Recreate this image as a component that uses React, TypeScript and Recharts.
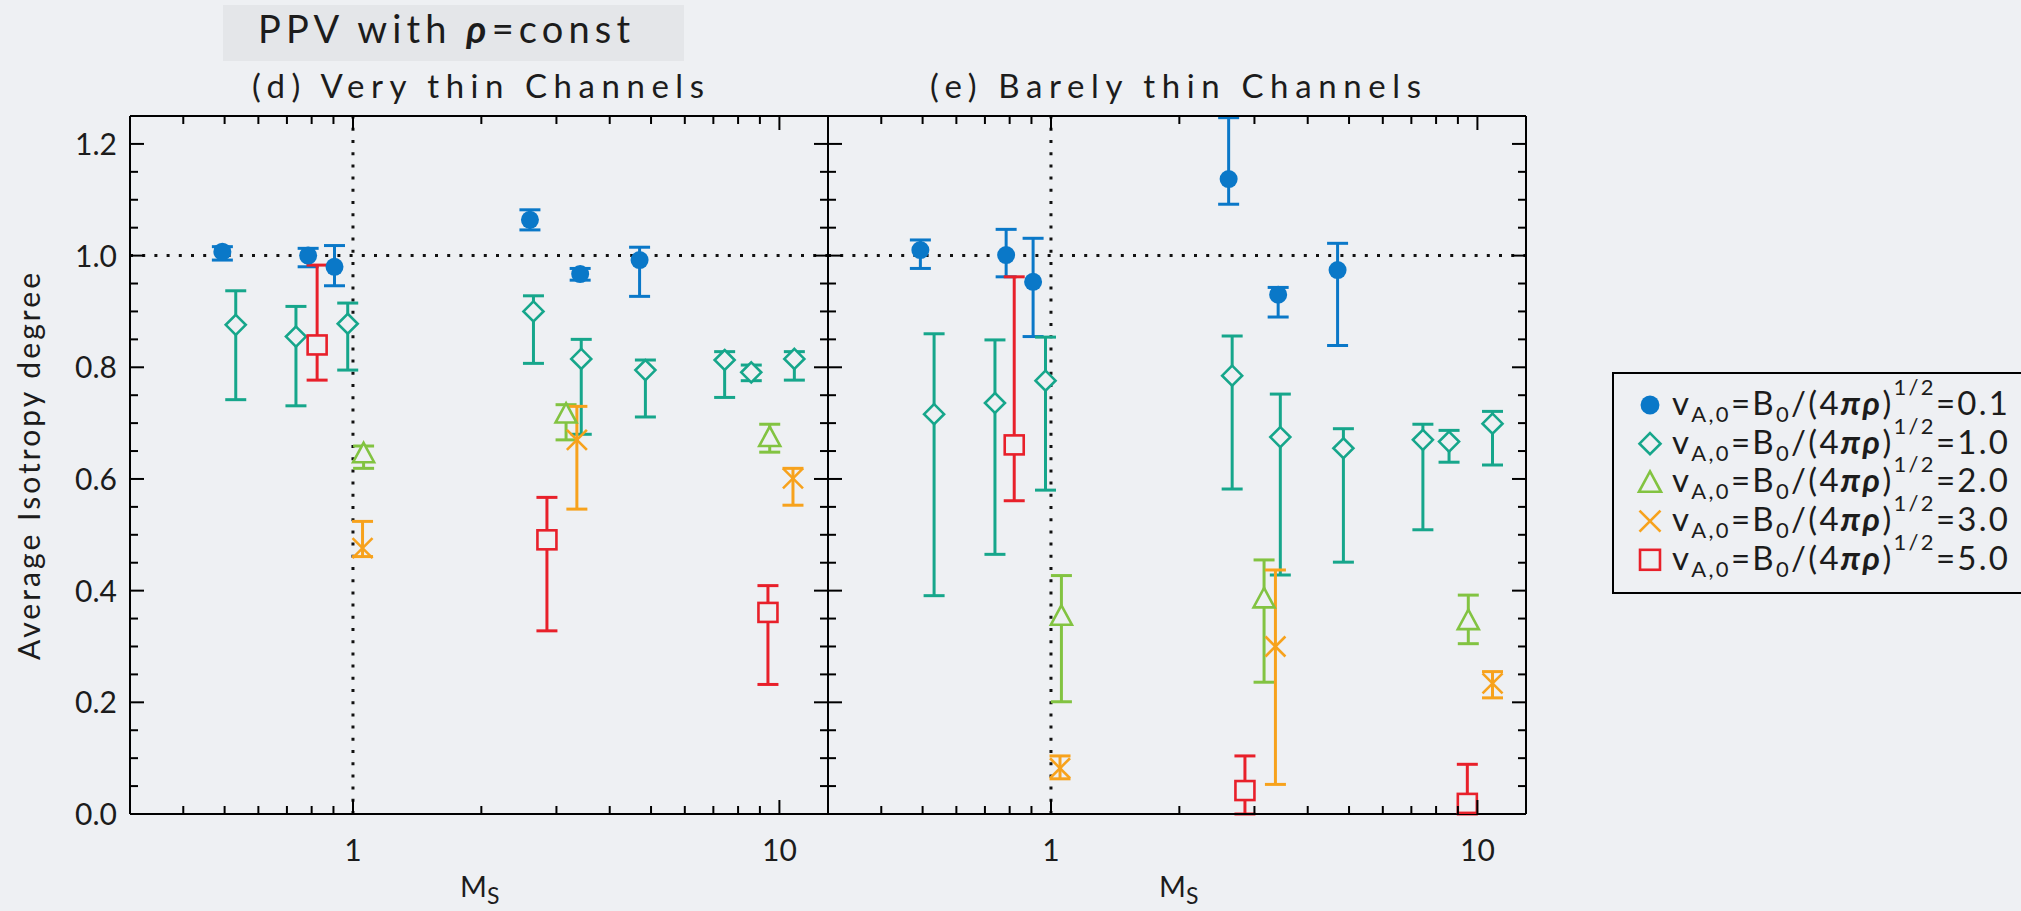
import React from 'react';
import { ScatterChart, Scatter, XAxis, YAxis, ErrorBar, ReferenceLine } from 'recharts';

// ---------- data ----------
// each point: [Ms, value, errLow, errHigh]
const thinV01 = [[0.494, 1.007, 0.992, 1.016], [0.785, 1.0, 0.98, 1.013], [0.905, 0.98, 0.946, 1.018], [2.6, 1.064, 1.046, 1.082], [3.41, 0.967, 0.956, 0.977], [4.7, 0.992, 0.927, 1.015]];
const thinV10 = [[0.531, 0.876, 0.742, 0.937], [0.735, 0.855, 0.731, 0.909], [0.972, 0.878, 0.795, 0.915], [2.65, 0.9, 0.807, 0.928], [3.43, 0.815, 0.68, 0.85], [4.85, 0.795, 0.711, 0.813], [7.44, 0.813, 0.746, 0.828], [8.59, 0.791, 0.776, 0.804], [10.84, 0.815, 0.777, 0.828]];
const thinV20 = [[1.059, 0.646, 0.619, 0.659], [3.16, 0.717, 0.67, 0.733], [9.49, 0.675, 0.648, 0.698]];
const thinV30 = [[1.053, 0.476, 0.461, 0.524], [3.35, 0.67, 0.546, 0.73], [10.76, 0.601, 0.553, 0.619]];
const thinV50 = [[0.824, 0.84, 0.777, 0.983], [2.85, 0.491, 0.328, 0.567], [9.4, 0.361, 0.232, 0.409]];

const barelyV01 = [[0.494, 1.01, 0.977, 1.028], [0.785, 1.001, 0.962, 1.047], [0.908, 0.953, 0.855, 1.031], [2.61, 1.137, 1.092, 1.247], [3.41, 0.93, 0.89, 0.943], [4.7, 0.974, 0.839, 1.022]];
const barelyV10 = [[0.532, 0.716, 0.391, 0.86], [0.739, 0.736, 0.465, 0.849], [0.971, 0.776, 0.58, 0.854], [2.66, 0.785, 0.582, 0.856], [3.45, 0.675, 0.428, 0.752], [4.85, 0.655, 0.451, 0.69], [7.45, 0.67, 0.509, 0.698], [8.58, 0.667, 0.63, 0.687], [10.85, 0.699, 0.625, 0.721]];
const barelyV20 = [[1.058, 0.355, 0.201, 0.427], [3.16, 0.386, 0.236, 0.455], [9.52, 0.347, 0.305, 0.392]];
const barelyV30 = [[1.05, 0.082, 0.063, 0.104], [3.36, 0.3, 0.053, 0.437], [10.85, 0.234, 0.208, 0.255]];
const barelyV50 = [[0.82, 0.661, 0.561, 0.962], [2.85, 0.042, 0.0, 0.104], [9.47, 0.019, 0.0, 0.089]];

const SERIES_VALUES = ['0.1', '1.0', '2.0', '3.0', '5.0'];
const SERIES_COLORS = ['#0a78c8', '#16a68b', '#82c341', '#f7a21c', '#e8202a'];
const SERIES_SHAPES = ['circle', 'diamond', 'triangle', 'cross', 'square'];

const X_DOMAIN = [0.3, 13];
const Y_DOMAIN = [0, 1.25];
const X_TICKS = [0.4, 0.5, 0.6, 0.7, 0.8, 0.9, 1, 2, 3, 4, 5, 6, 7, 8, 9, 10];
const X_LABELS = [1, 10];
const Y_TICKS = [0, 0.05, 0.1, 0.15, 0.2, 0.25, 0.3, 0.35, 0.4, 0.45, 0.5, 0.55, 0.6, 0.65, 0.7, 0.75, 0.8, 0.85, 0.9, 0.95, 1.0, 1.05, 1.1, 1.15, 1.2];
const Y_LABELS = [0, 0.2, 0.4, 0.6, 0.8, 1.0, 1.2];

const PANEL_TITLES = ['(d) Very thin Channels', '(e) Barely thin Channels'];
const MAIN_TITLE = 'PPV with ';

// ---------- style ----------
const BG = '#eef0f3';
const FONT = 'Lato, "Noto Sans", sans-serif';
const TXT = '#1c1c1c';
const PLOT_TOP = 116;
const PLOT_BOTTOM = 814;
const PLOT_W = 698;

const isLabelY = (v: number) => Y_LABELS.some((l) => Math.abs(l - v) < 1e-9);

function renderShape(kind: string, cx: number, cy: number, color: string, s = 1) {
  const sw = 2.6;
  if (kind === 'circle') return <circle cx={cx} cy={cy} r={9 * s} fill={color} />;
  if (kind === 'diamond') {
    const d = 10 * s;
    return <polygon points={`${cx},${cy - d} ${cx + d},${cy} ${cx},${cy + d} ${cx - d},${cy}`} fill={BG} stroke={color} strokeWidth={sw} />;
  }
  if (kind === 'triangle') {
    const h = 10.5 * s;
    return <polygon points={`${cx},${cy - h} ${cx + h},${cy + 0.85 * h} ${cx - h},${cy + 0.85 * h}`} fill={BG} stroke={color} strokeWidth={sw} />;
  }
  if (kind === 'cross') {
    const d = 10 * s;
    return (
      <g stroke={color} strokeWidth={sw}>
        <line x1={cx - d} y1={cy - d} x2={cx + d} y2={cy + d} />
        <line x1={cx - d} y1={cy + d} x2={cx + d} y2={cy - d} />
      </g>
    );
  }
  const h = 9.5 * s;
  return <rect x={cx - h} y={cy - h} width={2 * h} height={2 * h} fill={BG} stroke={color} strokeWidth={sw} />;
}

const toRows = (pts: number[][]) => pts.map(([x, y, lo, hi]) => ({ x, y, err: [y - lo, hi - y] }));

function Panel({ left, width, plotLeft, groups, showYLabels }: any) {
  const margin = {
    top: PLOT_TOP - 1,
    bottom: 911 - PLOT_BOTTOM - 1,
    left: plotLeft - left - 1,
    right: left + width - plotLeft - PLOT_W - 1,
  };
  const axisLine = { stroke: '#000', strokeWidth: 2 };
  const bottomTick = (p: any) => {
    const v = p.payload.value;
    const major = X_LABELS.includes(v);
    return (
      <g>
        <line x1={p.x} x2={p.x} y1={p.y} y2={p.y - (major ? 14 : 8)} stroke="#000" strokeWidth={2} />
        {major && (
          <text x={p.x} y={861} textAnchor="middle" fontSize={30} fontFamily={FONT} fill={TXT}>
            {String(v)}
          </text>
        )}
      </g>
    );
  };
  const topTick = (p: any) => {
    const major = X_LABELS.includes(p.payload.value);
    return <line x1={p.x} x2={p.x} y1={p.y} y2={p.y + (major ? 14 : 8)} stroke="#000" strokeWidth={2} />;
  };
  const leftTick = (p: any) => {
    const v = p.payload.value;
    const major = isLabelY(v);
    return (
      <g>
        <line x1={p.x} x2={p.x + (major ? 14 : 8)} y1={p.y} y2={p.y} stroke="#000" strokeWidth={2} />
        {major && showYLabels && (
          <text x={p.x - 13} y={p.y + 11} textAnchor="end" fontSize={30} fontFamily={FONT} fill={TXT}>
            {v.toFixed(1)}
          </text>
        )}
      </g>
    );
  };
  const rightTick = (p: any) => {
    const major = isLabelY(p.payload.value);
    return <line x1={p.x} x2={p.x - (major ? 14 : 8)} y1={p.y} y2={p.y} stroke="#000" strokeWidth={2} />;
  };
  return (
    <div style={{ position: 'absolute', left, top: 0 }}>
      <ScatterChart width={width} height={911} margin={margin}>
        <XAxis xAxisId="b" type="number" dataKey="x" scale="log" domain={X_DOMAIN} allowDataOverflow ticks={X_TICKS} interval={0}
          orientation="bottom" height={1} tickSize={0} tickMargin={0} tickLine={false} axisLine={axisLine} tick={bottomTick} />
        <XAxis xAxisId="t" type="number" dataKey="x" scale="log" domain={X_DOMAIN} allowDataOverflow ticks={X_TICKS} interval={0}
          orientation="top" height={1} tickSize={0} tickMargin={0} tickLine={false} axisLine={axisLine} tick={topTick} />
        <YAxis yAxisId="l" type="number" dataKey="y" domain={Y_DOMAIN} allowDataOverflow ticks={Y_TICKS} interval={0}
          orientation="left" width={1} tickSize={0} tickMargin={0} tickLine={false} axisLine={axisLine} tick={leftTick} />
        <YAxis yAxisId="r" type="number" dataKey="y" domain={Y_DOMAIN} allowDataOverflow ticks={Y_TICKS} interval={0}
          orientation="right" width={1} tickSize={0} tickMargin={0} tickLine={false} axisLine={axisLine} tick={rightTick} />
        <ReferenceLine xAxisId="b" yAxisId="l" y={1} stroke="#111" strokeWidth={3} strokeDasharray="3 9.2" />
        <ReferenceLine xAxisId="b" yAxisId="l" x={1} stroke="#111" strokeWidth={3} strokeDasharray="3 9.2" />
        {groups.map((pts: number[][], i: number) => (
          <Scatter key={i} data={toRows(pts)} xAxisId="b" yAxisId="l" fill={SERIES_COLORS[i]} isAnimationActive={false}
            shape={(sp: any) => renderShape(SERIES_SHAPES[i], sp.cx, sp.cy, SERIES_COLORS[i])}>
            <ErrorBar dataKey="err" direction="y" width={10.5} stroke={SERIES_COLORS[i]} strokeWidth={3} isAnimationActive={false} />
          </Scatter>
        ))}
      </ScatterChart>
    </div>
  );
}

function LegendBox() {
  const rowY = [405, 443.7, 482.4, 521.1, 559.8];
  return (
    <g>
      <rect x={1613} y={373} width={420} height={220} fill="none" stroke="#000" strokeWidth={2} />
      {SERIES_VALUES.map((val, i) => (
        <g key={i}>
          {renderShape(SERIES_SHAPES[i], 1650, rowY[i], SERIES_COLORS[i], 1.05)}
          <text x={1672} y={rowY[i] + 10} fontSize={33} fontFamily={FONT} fill={TXT} textLength={336} lengthAdjust="spacing">
            v<tspan fontSize={22} dy={7}>A,0</tspan>
            <tspan dy={-7}>=B</tspan>
            <tspan fontSize={22} dy={7}>0</tspan>
            <tspan dy={-7}>/(4</tspan>
            <tspan fontStyle="italic" fontWeight="bold">πρ</tspan>
            <tspan>)</tspan>
            <tspan fontSize={22} dy={-20}>1/2</tspan>
            <tspan dy={20}>={val}</tspan>
          </text>
        </g>
      ))}
    </g>
  );
}

export default function App() {
  return (
    <div style={{ position: 'relative', width: 2021, height: 911, background: BG, overflow: 'hidden' }}>
      <style>{'body{margin:0;overflow:hidden}'}</style>
      <svg width={2021} height={911} style={{ position: 'absolute', left: 0, top: 0 }}>
        <rect x={223} y={5} width={461} height={56} fill="#e4e6e9" />
        <text x={258} y={43} fontSize={38} fontFamily={FONT} fill={TXT} textLength={372} lengthAdjust="spacing">
          {MAIN_TITLE}
          <tspan fontStyle="italic" fontWeight="bold">ρ</tspan>=const
        </text>
        <text x={252} y={98} fontSize={33} fontFamily={FONT} fill={TXT} textLength={452} lengthAdjust="spacing">{PANEL_TITLES[0]}</text>
        <text x={930} y={98} fontSize={33} fontFamily={FONT} fill={TXT} textLength={491} lengthAdjust="spacing">{PANEL_TITLES[1]}</text>
        <text transform="translate(40,466.5) rotate(-90)" textAnchor="middle" fontSize={30} fontFamily={FONT} fill={TXT} textLength={387} lengthAdjust="spacing">
          Average Isotropy degree
        </text>
        {[460, 1159].map((x, i) => (
          <text key={i} x={x} y={897} fontSize={29} fontFamily={FONT} fill={TXT}>
            M<tspan fontSize={23} dy={7}>S</tspan>
          </text>
        ))}
        <LegendBox />
      </svg>
      <Panel left={0} width={840} plotLeft={130} groups={[thinV01, thinV10, thinV20, thinV30, thinV50]} showYLabels />
      <Panel left={800} width={740} plotLeft={828} groups={[barelyV01, barelyV10, barelyV20, barelyV30, barelyV50]} showYLabels={false} />
    </div>
  );
}
